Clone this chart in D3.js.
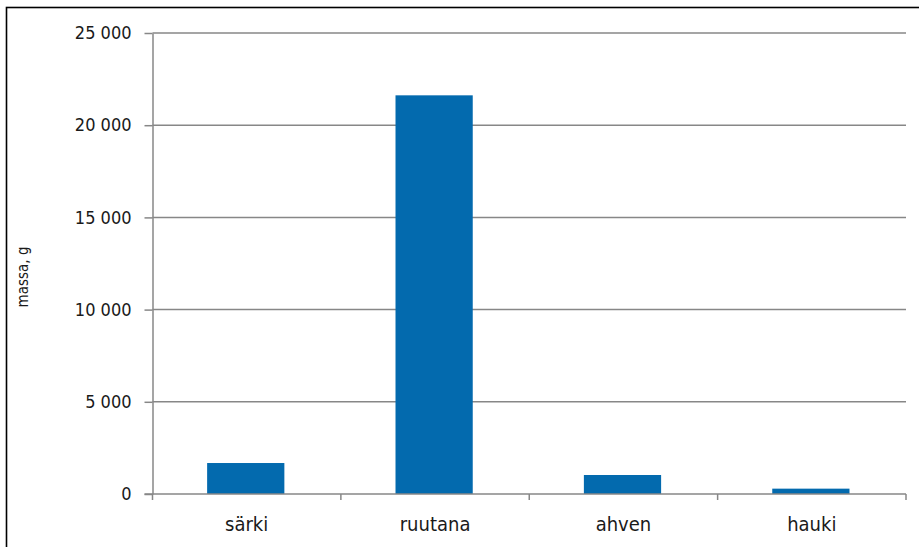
<!DOCTYPE html>
<html>
<head>
<meta charset="utf-8">
<script src="https://cdn.jsdelivr.net/npm/d3@7"></script>
<style>
  html, body { margin: 0; padding: 0; background: #fff; }
  svg text { font-family: "DejaVu Sans Condensed", "DejaVu Sans", sans-serif; font-stretch: condensed; fill: #1a1a1a; }
</style>
</head>
<body>
<svg id="chart" width="919" height="547"></svg>
<script>
// Fish catch by species, total mass in grams
const species = ["särki", "ruutana", "ahven", "hauki"];
const mass = [1680, 21620, 1030, 290];
const yTicks = [0, 5000, 10000, 15000, 20000, 25000];
const yLabel = "massa, g";

const svg = d3.select("#chart");
const W = 919, H = 547;
const m = { left: 152.5, right: 13, top: 33, bottom: 53 };

// outer frame (right and bottom edges fall outside the canvas)
svg.append("rect")
  .attr("x", 6.5).attr("y", 7.5)
  .attr("width", 1000).attr("height", 1000)
  .attr("fill", "none").attr("stroke", "#000").attr("stroke-width", 1.6);

const xb = d3.scaleBand().domain(species).range([m.left, W - m.right]);
const y = d3.scaleLinear().domain([0, 25000]).range([H - m.bottom, m.top]);

const fmt = v => d3.format(",")(v).replace(/,/g, " ");
const grey = "#878787";

// horizontal gridlines
svg.append("g").selectAll("line").data(yTicks.filter(t => t > 0)).join("line")
  .attr("x1", m.left).attr("x2", W - m.right)
  .attr("y1", d => y(d)).attr("y2", d => y(d))
  .attr("stroke", grey).attr("stroke-width", 1.5);

// y axis
const yAxis = svg.append("g")
  .attr("transform", `translate(${m.left},0)`)
  .call(d3.axisLeft(y).tickValues(yTicks).tickFormat(fmt).tickSize(8).tickSizeOuter(0).tickPadding(13));
yAxis.select(".domain").attr("stroke", grey).attr("stroke-width", 1.5);
yAxis.selectAll(".tick line").attr("stroke", grey).attr("stroke-width", 1.5);
yAxis.selectAll("text").attr("font-size", 18)
  .attr("font-family", "DejaVu Sans, sans-serif").style("font-stretch", "normal").attr("fill", "#1a1a1a");

// bars
svg.append("g").selectAll("rect").data(species).join("rect")
  .attr("x", d => xb(d) + xb.bandwidth() * 0.29)
  .attr("width", xb.bandwidth() * 0.41)
  .attr("y", (d, i) => y(mass[i]))
  .attr("height", (d, i) => y(0) - y(mass[i]))
  .attr("fill", "#036AAE");

// x axis with ticks at band boundaries
const xg = svg.append("g").attr("transform", `translate(0,${y(0)})`);
xg.append("line").attr("x1", m.left - 8).attr("x2", W - m.right)
  .attr("stroke", grey).attr("stroke-width", 1.5);
const bounds = species.map(d => xb(d)).concat([xb(species[species.length - 1]) + xb.bandwidth()]);
xg.selectAll("line.tk").data(bounds).join("line").attr("class", "tk")
  .attr("x1", d => d).attr("x2", d => d).attr("y1", 0).attr("y2", 6)
  .attr("stroke", grey).attr("stroke-width", 1.5);
xg.selectAll("text").data(species).join("text")
  .attr("x", d => xb(d) + xb.bandwidth() / 2)
  .attr("y", 37)
  .attr("text-anchor", "middle")
  .attr("font-size", 20)
  .text(d => d);

// y axis title
svg.append("text")
  .attr("transform", `translate(28,${277}) rotate(-90)`)
  .attr("text-anchor", "middle")
  .attr("font-size", 15)
  .text(yLabel);
</script>
</body>
</html>
